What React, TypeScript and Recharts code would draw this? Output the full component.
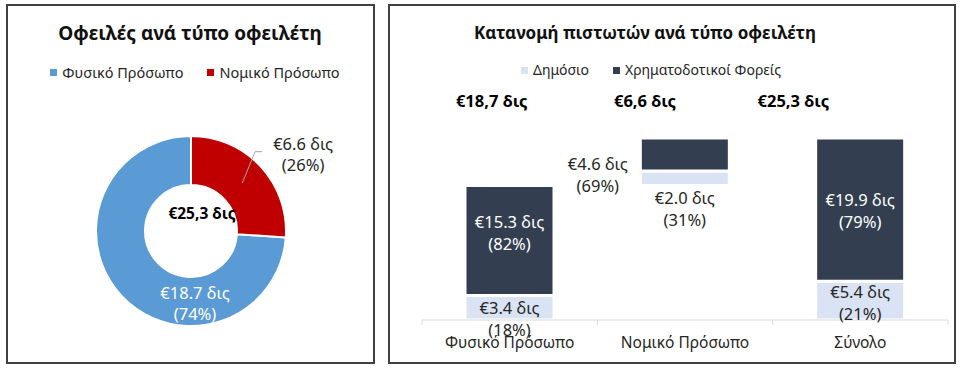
import { Bar, BarChart, Cell, LabelList, Pie, PieChart, XAxis, YAxis } from 'recharts'

// left panel: debts by debtor type
const debtorTypes = ['Φυσικό Πρόσωπο', 'Νομικό Πρόσωπο']
const debtValues = [18.7, 6.6]
const debtColors = ['#5B9BD5', '#C00000']
const debtTotalLabel = '€25,3 δις'

// right panel: creditors by debtor type (waterfall)
const categories = ['Φυσικό Πρόσωπο', 'Νομικό Πρόσωπο', 'Σύνολο']
const seriesNames = ['Δημόσιο', 'Χρηματοδοτικοί Φορείς']
const seriesColors = ['#DAE3F3', '#333F50']
const baseValues = [0, 18.7, 0]
const publicValues = [3.4, 2.0, 5.4]
const publicPct = [18, 31, 21]
const financeValues = [15.3, 4.6, 19.9]
const financePct = [82, 69, 79]
const totalLabels = ['€18,7 δις', '€6,6 δις', '€25,3 δις']

const FONT = '"Noto Sans", sans-serif'
const TEXT = '#262626'

const pieData = debtorTypes.map((name, i) => ({ name, value: debtValues[i] }))
const pieTotal = debtValues.reduce((a, b) => a + b, 0)
const redShare = debtValues[1] / pieTotal
const startAngle = 90 - redShare * 360

const barData = categories.map((name, i) => ({
  name,
  base: baseValues[i],
  pub: publicValues[i],
  fin: financeValues[i],
}))

// label placement per bar, relative to the segment centre
const pubLabelPos = [
  { dx: 0, dy: -1, fill: TEXT },
  { dx: 0, dy: 19, fill: TEXT },
  { dx: 0, dy: -10, fill: TEXT },
]
const finLabelPos = [
  { dx: 0, dy: -20, fill: '#fff' },
  { dx: -87, dy: 8, fill: TEXT },
  { dx: 0, dy: -11, fill: '#fff' },
]
const totalDx = [-18, -40, -67]

const RAD = Math.PI / 180

function pieLabel(props: any) {
  const { cx, cy, midAngle, outerRadius, index, value } = props
  const pct = Math.round((value / pieTotal) * 100)
  if (index === 0) {
    return (
      <g>
        <text x={cx + 4} y={cy + 61} textAnchor="middle" dominantBaseline="central" fill="#fff" fontSize={16.5} fontFamily={FONT}>
          <tspan x={cx + 4}>€{value.toFixed(1)} δις</tspan>
          <tspan x={cx + 4} dy={21}>({pct}%)</tspan>
        </text>
        <text x={cx + 11} y={cy - 18} textAnchor="middle" dominantBaseline="central" fill="#000" fontSize={15.5} fontWeight={700} fontFamily={FONT}>
          {debtTotalLabel}
        </text>
      </g>
    )
  }
  const sx = cx + 70 * Math.cos(-midAngle * RAD)
  const sy = cy + 70 * Math.sin(-midAngle * RAD)
  const ex = cx + (outerRadius + 7) * Math.cos(-(midAngle + 8) * RAD)
  const ey = cy + (outerRadius + 7) * Math.sin(-(midAngle + 8) * RAD)
  return (
    <g>
      <polyline points={`${sx},${sy} ${ex},${ey} ${ex + 7},${ey}`} fill="none" stroke="#a6a6a6" strokeWidth={1} />
      <text x={ex + 48} y={ey - 9} textAnchor="middle" dominantBaseline="central" fill={TEXT} fontSize={16.5} fontFamily={FONT}>
        <tspan x={ex + 48}>€{value.toFixed(1)} δις</tspan>
        <tspan x={ex + 48} dy={21}>({pct}%)</tspan>
      </text>
    </g>
  )
}

function segLabel(values: number[], pcts: number[], pos: { dx: number; dy: number; fill: string }[]) {
  return (props: any) => {
    const { x, y, width, height, index } = props
    const p = pos[index]
    const cx = Number(x) + Number(width) / 2 + p.dx
    const cy = Number(y) + Number(height) / 2 + p.dy
    return (
      <text x={cx} y={cy} textAnchor="middle" dominantBaseline="central" fill={p.fill} fontSize={16.5} fontFamily={FONT}>
        <tspan x={cx}>€{values[index].toFixed(1)} δις</tspan>
        <tspan x={cx} dy={22}>({pcts[index]}%)</tspan>
      </text>
    )
  }
}

function CategoryTick(props: any) {
  const { x, y, payload, index, width, visibleTicksCount } = props
  const half = width && visibleTicksCount ? width / visibleTicksCount / 2 : 87.6
  return (
    <g>
      {index === 0 && <line x1={x - half} x2={x - half} y1={y} y2={y + 5} stroke="#d9d9d9" />}
      <line x1={x + half} x2={x + half} y1={y} y2={y + 5} stroke="#d9d9d9" />
      <text x={x} y={y + 22} textAnchor="middle" dominantBaseline="central" fill={TEXT} fontSize={15.5} fontFamily={FONT}>
        {payload.value}
      </text>
    </g>
  )
}

function TotalTick(props: any) {
  const { x, index } = props
  return (
    <text x={x + totalDx[index]} y={100} textAnchor="middle" dominantBaseline="central" fill="#000" fontSize={16.5} fontWeight={700} fontFamily={FONT}>
      {totalLabels[index]}
    </text>
  )
}

function LegendRow({ names, colors, left, width, top, size }: { names: string[]; colors: string[]; left: number; width: number; top: number; size: number }) {
  return (
    <div style={{ position: 'absolute', left, width, top, display: 'flex', justifyContent: 'center', gap: 24, fontSize: size, color: TEXT, lineHeight: '20px' }}>
      {names.map((n, i) => (
        <div key={n} style={{ display: 'flex', alignItems: 'center', gap: 5 }}>
          <span style={{ width: 7, height: 7, background: colors[i], display: 'inline-block' }} />
          <span>{n}</span>
        </div>
      ))}
    </div>
  )
}

const panel = { position: 'absolute' as const, top: 4, height: 360, border: '2px solid #404040', boxSizing: 'border-box' as const }
const title = { position: 'absolute' as const, top: 18, fontWeight: 700, color: '#111', textAlign: 'center' as const, lineHeight: '30px' }

export default function App() {
  return (
    <div style={{ position: 'absolute', left: 0, top: 0, width: 960, height: 368, background: '#fff', fontFamily: FONT, overflow: 'hidden' }}>
      <div style={{ ...panel, left: 6, width: 369 }} />
      <div style={{ ...panel, left: 388, width: 568 }} />

      <div style={{ ...title, left: 0, width: 380, fontSize: 19 }}>Οφειλές ανά τύπο οφειλέτη</div>
      <LegendRow names={debtorTypes} colors={debtColors} left={0} width={390} top={62} size={14.5} />

      <div style={{ position: 'absolute', left: 0, top: 0 }}>
        <PieChart width={380} height={368} margin={{ top: 0, right: 0, bottom: 0, left: 0 }}>
          <Pie
            data={pieData}
            dataKey="value"
            cx={191}
            cy={231}
            innerRadius={46}
            outerRadius={95}
            startAngle={startAngle}
            endAngle={startAngle - 360}
            stroke="#fff"
            strokeWidth={2}
            label={pieLabel}
            labelLine={false}
            isAnimationActive={false}
          >
            {pieData.map((d, i) => (
              <Cell key={d.name} fill={debtColors[i]} />
            ))}
          </Pie>
        </PieChart>
      </div>

      <div style={{ ...title, left: 388, width: 514, fontSize: 17 }}>Κατανομή πιστωτών ανά τύπο οφειλέτη</div>
      <LegendRow names={seriesNames} colors={seriesColors} left={388} width={526} top={60} size={14} />

      <div style={{ position: 'absolute', left: 389, top: 0 }}>
        <BarChart width={566} height={368} data={barData} margin={{ top: 108, right: 7, bottom: 18, left: 33 }} barSize={89}>
          <XAxis dataKey="name" height={30} tickSize={0} tickMargin={0} axisLine={{ stroke: '#d9d9d9' }} tickLine={false} tick={CategoryTick} />
          <XAxis xAxisId="top" orientation="top" dataKey="name" height={30} axisLine={false} tickLine={false} tick={TotalTick} />
          <YAxis hide domain={[0, 'dataMax']} />
          <Bar dataKey="base" stackId="s" fill="transparent" legendType="none" isAnimationActive={false} />
          <Bar dataKey="pub" stackId="s" fill={seriesColors[0]} stroke="#fff" strokeWidth={3} isAnimationActive={false}>
            <LabelList dataKey="pub" content={segLabel(publicValues, publicPct, pubLabelPos)} />
          </Bar>
          <Bar dataKey="fin" stackId="s" fill={seriesColors[1]} stroke="#fff" strokeWidth={3} isAnimationActive={false}>
            <LabelList dataKey="fin" content={segLabel(financeValues, financePct, finLabelPos)} />
          </Bar>
        </BarChart>
      </div>
    </div>
  )
}
